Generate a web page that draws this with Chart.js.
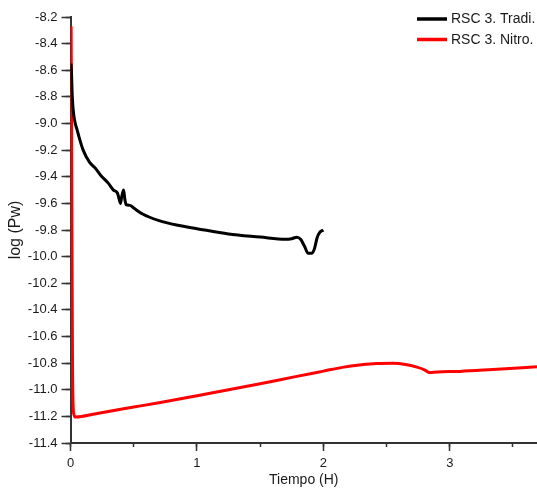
<!DOCTYPE html>
<html>
<head>
<meta charset="utf-8">
<script src="https://cdn.jsdelivr.net/npm/chart.js@4.4.1/dist/chart.umd.min.js"></script>
<style>
html,body{margin:0;padding:0;background:#fff;}
canvas{display:block;}
</style>
</head>
<body>
<canvas id="c" width="537" height="491"></canvas>
<script>
// ---- data ----
const seriesLabels = ['RSC 3. Tradi.', 'RSC 3. Nitro.'];

const tradiX = [0.004, 0.008, 0.012, 0.018, 0.025, 0.035, 0.05, 0.07, 0.1, 0.15, 0.2, 0.24, 0.3, 0.34, 0.37, 0.38, 0.395, 0.405, 0.42, 0.43, 0.44, 0.47, 0.5, 0.57, 0.7, 0.85, 1.0, 1.25, 1.5, 1.7, 1.75, 1.79, 1.82, 1.85, 1.88, 1.91, 1.93, 1.95, 1.97, 2.0];
const tradiY = [-8.55, -8.62, -8.75, -8.86, -8.93, -8.99, -9.04, -9.11, -9.2, -9.29, -9.34, -9.39, -9.45, -9.5, -9.52, -9.55, -9.6, -9.55, -9.5, -9.57, -9.61, -9.615, -9.635, -9.68, -9.73, -9.765, -9.79, -9.83, -9.853, -9.87, -9.865, -9.855, -9.87, -9.92, -9.975, -9.975, -9.94, -9.86, -9.82, -9.8];

const nitroX = [0.005, 0.008, 0.012, 0.016, 0.02, 0.028, 0.04, 0.2, 0.5, 0.7, 1.0, 1.25, 1.5, 1.76, 2.0, 2.15, 2.3, 2.42, 2.55, 2.65, 2.74, 2.8, 2.84, 2.9, 3.08, 3.34, 3.69];
const nitroY = [-8.27, -9.0, -10.0, -10.8, -11.1, -11.19, -11.205, -11.18, -11.13, -11.097, -11.045, -11.0, -10.955, -10.905, -10.86, -10.832, -10.813, -10.803, -10.801, -10.81, -10.83, -10.85, -10.871, -10.866, -10.862, -10.848, -10.828];

const xMin = 0, xMax = 3.69, xMajorStep = 1, xMinorStep = 0.5;
const yMin = -11.4, yMax = -8.2, yMajorStep = 0.2, yMinorStep = 0.1;
const xTitle = 'Tiempo (H)';
const yTitle = 'log (Pw)';

// ---- build ----
const toPts = (xs, ys) => xs.map((x, i) => ({x: x, y: ys[i]}));
const FONT = "'Liberation Sans', Arial, sans-serif";
const AXIS = '#333333';
const TXT = '#1a1a1a';

const legendPlugin = {
  id: 'insideLegend',
  afterDraw(chart) {
    const ctx = chart.ctx;
    ctx.save();
    ctx.font = '14px ' + FONT;
    ctx.textBaseline = 'middle';
    ctx.textAlign = 'left';
    chart.data.datasets.forEach((ds, i) => {
      const y = 19 + i * 20.5;
      ctx.strokeStyle = ds.borderColor;
      ctx.lineWidth = 3.5;
      ctx.beginPath();
      ctx.moveTo(417, y);
      ctx.lineTo(447, y);
      ctx.stroke();
      ctx.fillStyle = TXT;
      ctx.fillText(ds.label, 451, y + 0.5);
    });
    ctx.restore();
  }
};

new Chart(document.getElementById('c'), {
  type: 'line',
  data: {
    datasets: [
      {label: seriesLabels[0], data: toPts(tradiX, tradiY), borderColor: '#000000', borderWidth: 3, pointRadius: 0, cubicInterpolationMode: 'monotone', xAxisID: 'x', yAxisID: 'y'},
      {label: seriesLabels[1], data: toPts(nitroX, nitroY), borderColor: '#ff0000', borderWidth: 3, pointRadius: 0, cubicInterpolationMode: 'monotone', xAxisID: 'x', yAxisID: 'y'}
    ]
  },
  options: {
    responsive: false,
    animation: false,
    events: [],
    layout: {padding: {top: 17, right: 0, left: 0, bottom: 0}},
    plugins: {legend: {display: false}, tooltip: {enabled: false}},
    scales: {
      x: {
        type: 'linear', position: 'bottom', min: xMin, max: xMax, weight: 1,
        border: {display: true, color: AXIS, width: 2},
        grid: {drawOnChartArea: false, drawTicks: true, tickLength: 8, tickColor: AXIS, tickWidth: 1.5},
        ticks: {stepSize: xMajorStep, includeBounds: false, padding: 5, color: TXT, font: {family: FONT, size: 13}, maxRotation: 0,
                callback: v => String(Math.round(v))},
        title: {display: true, text: xTitle, color: TXT, font: {family: FONT, size: 14}, padding: {top: 2, bottom: 2}},
        afterFit: s => { s.height = 48; }
      },
      x2: {
        type: 'linear', position: 'bottom', min: xMin, max: xMax, weight: 0,
        border: {display: false},
        grid: {drawOnChartArea: false, drawTicks: true, tickLength: 4, tickColor: AXIS, tickWidth: 1.5},
        ticks: {stepSize: xMinorStep, includeBounds: false, display: true, callback: () => ''},
        afterFit: s => { s.width = s.width; s.height = 0; }
      },
      y: {
        type: 'linear', position: 'left', min: yMin, max: yMax, weight: 1,
        border: {display: true, color: AXIS, width: 2},
        grid: {drawOnChartArea: false, drawTicks: true, tickLength: 9, tickColor: AXIS, tickWidth: 1.5},
        ticks: {stepSize: yMajorStep, includeBounds: false, padding: 4, color: TXT, font: {family: FONT, size: 13},
                callback: v => Number(v).toFixed(1)},
        title: {display: true, text: yTitle, color: TXT, font: {family: FONT, size: 16}, padding: {top: 6, bottom: 2}},
        afterFit: s => { s.width = 70.5; }
      },
      y2: {
        type: 'linear', position: 'left', min: yMin, max: yMax, weight: 0,
        border: {display: false},
        grid: {drawOnChartArea: false, drawTicks: true, tickLength: 5, tickColor: AXIS, tickWidth: 1.5},
        ticks: {stepSize: yMinorStep, includeBounds: false, display: true, callback: () => ''},
        afterFit: s => { s.width = 0; }
      }
    }
  },
  plugins: [legendPlugin]
});
</script>
</body>
</html>
